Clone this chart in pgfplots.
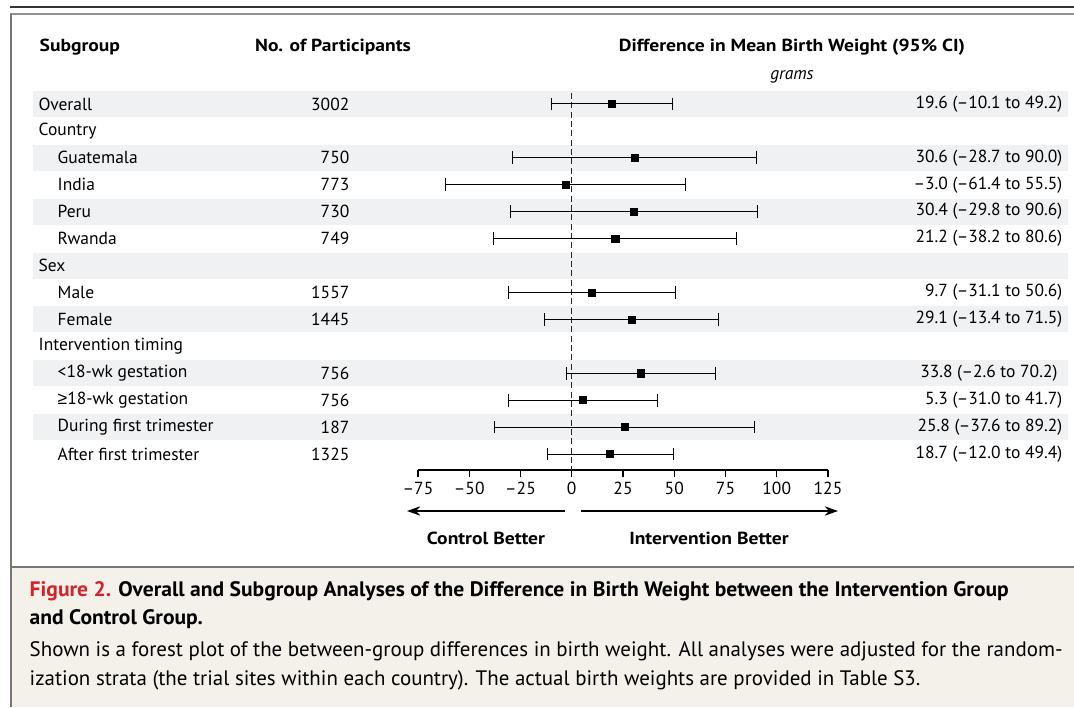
\documentclass[border=0pt]{standalone}
\usepackage{fontspec}
\setmainfont{PT Sans}
\newfontfamily\hfont[FakeStretch=1.12]{PT Sans}
\newfontfamily\capbfont[FakeStretch=1.03]{PT Sans}
\newfontfamily\symfont{Liberation Sans}
\usepackage{pgfplots}
\usepackage{pgfplotstable}
\usetikzlibrary{arrows.meta}
\pgfplotsset{compat=1.18}
\definecolor{band}{HTML}{F0F1F3}
\definecolor{capbg}{HTML}{F4F1EA}
\definecolor{frame}{HTML}{767676}
\definecolor{figred}{HTML}{D2232A}

\pgfplotstableread{
row est lo hi
1 19.6 -10.1 49.2
3 30.6 -28.7 90.0
4 -3.0 -61.4 55.5
5 30.4 -29.8 90.6
6 21.2 -38.2 80.6
8 9.7 -31.1 50.6
9 29.1 -13.4 71.5
11 33.8 -2.6 70.2
12 5.3 -31.0 41.7
13 25.8 -37.6 89.2
14 18.7 -12.0 49.4
}\data

\newcommand{\ry}[1]{707-(104+(#1-1)*26.923)}
\newcommand{\Y}[1]{707-(#1)}
\newcommand{\tf}{\fontsize{13.1}{16}\selectfont}
\newcommand{\hf}{\hfont\fontsize{13.1}{16}\selectfont\bfseries}
\newcommand{\gesym}{{\symfont ≥}}
\begin{document}
\begin{tikzpicture}[x=0.75pt,y=0.75pt,font=\tf]
\useasboundingbox (0,0) rectangle (1074,707);
% caption background
\fill[capbg] (11,{\Y{567}}) rectangle (1074,0);
% bands
\foreach \r in {1,3,5,7,9,11,13}{
  \fill[band] (33,{\ry{\r}-13}) rectangle (1068,{\ry{\r}+13});
}
% frame lines
\draw[line width=1.3pt,black!80] (10,{\Y{7}}) -- (1074,{\Y{7}});
\draw[line width=2pt,frame!80] (10,{\Y{14}}) -- (1074,{\Y{14}});
\draw[line width=2pt,frame] (11,{\Y{14}}) -- (11,0);
\draw[line width=2.2pt,frame] (10,{\Y{567}}) -- (1074,{\Y{567}});

% headers
\node[anchor=west,font=\hf] at (35,{\Y{47}}) {Subgroup};
\node[font=\hf] at (333,{\Y{47}}) {No. of Participants};
\node[font=\hf] at (792,{\Y{47}}) {Difference in Mean Birth Weight (95\% CI)};
\node[font=\tf\itshape] at (792,{\Y{77}}) {grams};

% row labels
\foreach \r/\lab/\ind in {1/Overall/0,2/Country/0,3/Guatemala/1,4/India/1,5/Peru/1,6/Rwanda/1,7/Sex/0,8/Male/1,9/Female/1,10/Intervention timing/0,11/<18-wk gestation/1,12/\gesym18-wk gestation/1,13/During first trimester/1,14/After first trimester/1}{
  \node[anchor=west] at ({34+19*\ind},{\ry{\r}}) {\lab};
}
% numbers
\foreach \r/\n in {1/3002,3/750,4/773,5/730,6/749,8/1557,9/1445,11/756,12/756,13/187,14/1325}{
  \node[anchor=east] at (354,{\ry{\r}}) {\n};
}
% CI text
\foreach \r/\t in {1/19.6 (–10.1 to 49.2),3/30.6 (–28.7 to 90.0),4/–3.0 (–61.4 to 55.5),5/30.4 (–29.8 to 90.6),6/21.2 (–38.2 to 80.6),8/9.7 (–31.1 to 50.6),9/29.1 (–13.4 to 71.5),11/33.8 (–2.6 to 70.2)\phantom{)},12/5.3 (–31.0 to 41.7),13/25.8 (–37.6 to 89.2),14/18.7 (–12.0 to 49.4)}{
  \node[anchor=east] at (1067,{\ry{\r}}) {\t};
}

\begin{axis}[
  at={(313.5pt,177.75pt)}, anchor=south west,
  scale only axis, width=307.5pt, height=294.7pt,
  xmin=-75, xmax=125, ymin=0, ymax=14.594, y dir=reverse,
  axis x line*=bottom, axis y line=none,
  axis line style={-, line width=0.9pt, black},
  xtick={-75,-50,...,125},
  xticklabels={–75,–50,–25,0,25,50,75,100,125},
  tick align=outside, major tick length=5.5pt,
  tick style={line width=0.9pt, black},
  x tick label style={font=\tf},
  clip=false,
]
\addplot[black!85, line width=1pt, dash pattern=on 4.5pt off 2.5pt] coordinates {(0,0.59) (0,14.594)};
\addplot[only marks, mark=square*, mark size=2.7pt, black,
  error bars/.cd, x dir=both, x explicit,
  error bar style={line width=0.75pt, black},
  error mark options={black, mark size=4.8pt, line width=0.75pt, rotate=90}]
  table[x=est, y=row, x error plus expr=\thisrow{hi}-\thisrow{est}, x error minus expr=\thisrow{est}-\thisrow{lo}] {\data};
\end{axis}

% direction arrows
\draw[line width=1pt, -{Stealth[length=10pt,width=7pt]}] (565,{\Y{511}}) -- (407,{\Y{511}});
\draw[line width=1pt, -{Stealth[length=10pt,width=7pt]}] (581,{\Y{511}}) -- (838,{\Y{511}});
\node[font=\hf] at (486,{\Y{538}}) {Control Better};
\node[font=\hf] at (709,{\Y{538}}) {Intervention Better};

% caption
\node[anchor=west,font=\capbfont\fontsize{15.7}{18}\selectfont\bfseries] at (25,{\Y{591}}) {{\color{figred}Figure 2.} Overall and Subgroup Analyses of the Difference in Birth Weight between the Intervention Group};
\node[anchor=west,font=\capbfont\fontsize{15.7}{18}\selectfont\bfseries] at (25,{\Y{619}}) {and Control Group.};
\node[anchor=west,font=\fontsize{15.7}{18}\selectfont] at (25,{\Y{651}}) {Shown is a forest plot of the between-group differences in birth weight. All analyses were adjusted for the random-};
\node[anchor=west,font=\fontsize{15.7}{18}\selectfont] at (25,{\Y{680}}) {ization strata (the trial sites within each country). The actual birth weights are provided in Table S3.};
\end{tikzpicture}
\end{document}
